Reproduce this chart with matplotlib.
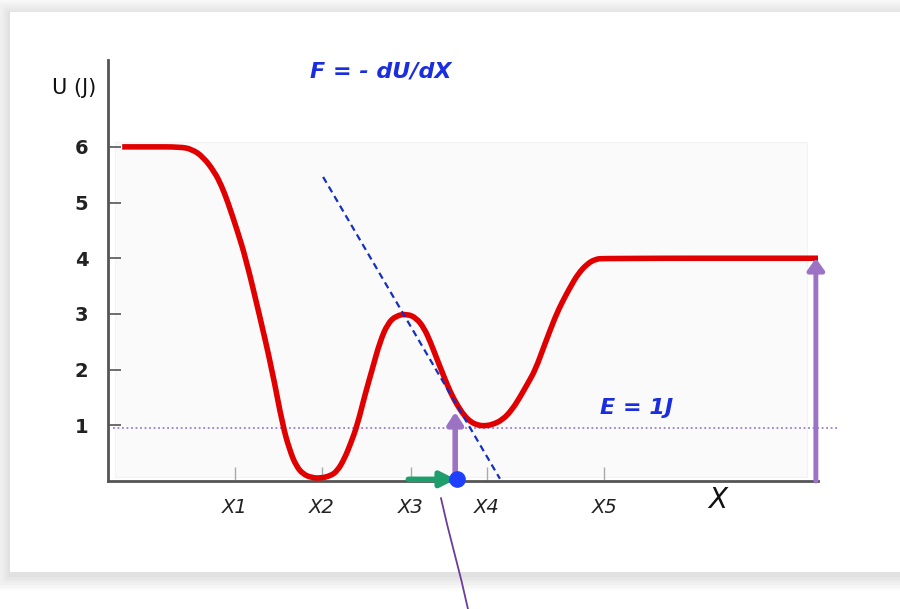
import matplotlib
matplotlib.use("Agg")
import matplotlib.pyplot as plt
from matplotlib.patches import Rectangle, PathPatch
from matplotlib.path import Path

# potential energy curve U(x), read at points along the trace
x_curve = [0.20, 0.59, 1.01, 1.18, 1.34, 1.50, 1.60, 1.69, 1.82, 1.94, 2.13, 2.31,
           2.46, 2.56, 2.65, 2.75, 2.87, 2.99, 3.13, 3.23, 3.33, 3.42, 3.51, 3.62,
           3.72, 3.83, 3.94, 4.06, 4.21, 4.34, 4.45, 4.54, 4.63, 4.73, 4.82, 4.92,
           5.02, 5.12, 5.22, 5.30, 5.41, 5.56, 5.69, 5.80, 5.92, 6.02, 6.15, 6.30,
           6.40, 6.51, 6.62, 6.75, 6.86, 6.97, 10.0]
u_curve = [6.00, 6.00, 6.00, 5.96, 5.82, 5.55, 5.30, 5.00, 4.50, 4.00, 3.00, 2.00,
           1.00, 0.55, 0.27, 0.12, 0.06, 0.05, 0.09, 0.18, 0.40, 0.68, 1.00, 1.55,
           2.00, 2.50, 2.83, 2.97, 3.00, 2.93, 2.75, 2.50, 2.20, 1.88, 1.60, 1.36,
           1.17, 1.05, 1.00, 0.99, 1.01, 1.10, 1.28, 1.50, 1.77, 2.00, 2.45, 2.95,
           3.22, 3.48, 3.72, 3.90, 3.98, 4.00, 4.00]

# tangent line at the slope point
x_tangent = [3.03, 5.52]
u_tangent = [5.46, 0.04]

y_ticks = [1, 2, 3, 4, 5, 6]
x_ticks = [1.79, 3.01, 4.27, 5.34, 6.99]
x_tick_labels = ["X1", "X2", "X3", "X4", "X5"]

energy = 0.95
particle_x = 4.92
small_arrow_top = 1.24
big_arrow_x = 9.97
big_arrow_top = 4.0
push_start = 4.23


def smooth_path(xs, ys):
    # quadratic segments through the midpoints, read points act as controls
    pts = list(zip(xs, ys))
    verts = [pts[0]]
    codes = [Path.MOVETO]
    for i in range(1, len(pts) - 1):
        mid = ((pts[i][0] + pts[i + 1][0]) / 2, (pts[i][1] + pts[i + 1][1]) / 2)
        verts += [pts[i], mid]
        codes += [Path.CURVE3, Path.CURVE3]
    verts.append(pts[-1])
    codes.append(Path.LINETO)
    return Path(verts, codes)


fig = plt.figure(figsize=(9, 6.09), dpi=100)
fig.patch.set_facecolor("white")

# card with a soft shadow
cx0, cy0 = 10 / 900, (609 - 572) / 609
cw, ch = 1.05, (572 - 12) / 609
for i in range(10, 0, -1):
    d = i * 1.6
    fig.patches.append(Rectangle((cx0 - d / 900, cy0 - (d + 3) / 609),
                                 cw + 2 * d / 900, ch + (2 * d + 1) / 609,
                                 transform=fig.transFigure, facecolor="black",
                                 alpha=0.012, edgecolor="none", zorder=-3))
fig.patches.append(Rectangle((cx0, cy0), cw, ch, transform=fig.transFigure,
                             facecolor="white", edgecolor="none", zorder=-2))

ax = fig.add_axes([108 / 900, (609 - 481) / 609, 710 / 900, 421 / 609])
ax.set_facecolor("none")
ax.set_xlim(0, 10)
ax.set_ylim(0, 7.56)

# faint plotting area
ax.add_patch(Rectangle((0.1, 0.08), 9.75, 6.0, facecolor="#fafafb",
                       edgecolor="#f3f3f6", lw=0.8, zorder=0))

for s in ["top", "right"]:
    ax.spines[s].set_visible(False)
for s in ["left", "bottom"]:
    ax.spines[s].set_color("#555555")
    ax.spines[s].set_linewidth(2)

ax.set_yticks(y_ticks)
ax.set_yticklabels([str(v) for v in y_ticks], fontsize=14, fontweight="bold",
                   color="#222222")
ax.set_xticks(x_ticks)
ax.set_xticklabels(x_tick_labels, fontsize=14, fontstyle="italic", color="#222222")
ax.tick_params(axis="y", direction="in", length=9, width=1.2, color="#555555", pad=14)
ax.tick_params(axis="x", direction="in", length=10, width=1, color="#aaaaaa", pad=12)

ax.add_patch(PathPatch(smooth_path(x_curve, u_curve), facecolor="none",
                       edgecolor="#e00000", lw=4, capstyle="butt",
                       joinstyle="round", zorder=3))
ax.plot(x_tangent, u_tangent, color="#1530c0", lw=1.6, ls=(0, (3, 2)), zorder=4)
ax.plot([0.07, 10.28], [energy, energy], color="#9a80d0", lw=1.3, ls=(0, (1, 1.5)),
        clip_on=False, zorder=2)

# force arrow, particle, and the two energy arrows
ax.annotate("", xy=(particle_x - 0.02, 0.03), xytext=(push_start, 0.03),
            arrowprops=dict(arrowstyle="-|>,head_length=0.9,head_width=0.45",
                            color="#1d9e6c", lw=4, shrinkA=0, shrinkB=0),
            zorder=5, annotation_clip=False)
ax.annotate("", xy=(4.89, small_arrow_top), xytext=(4.89, 0.0),
            arrowprops=dict(arrowstyle="-|>,head_length=0.7,head_width=0.45",
                            color="#9b72c4", lw=4, shrinkA=0, shrinkB=0),
            zorder=5)
ax.annotate("", xy=(big_arrow_x, big_arrow_top), xytext=(big_arrow_x, 0.0),
            arrowprops=dict(arrowstyle="-|>,head_length=0.7,head_width=0.5",
                            color="#9b72c4", lw=3.5, shrinkA=0, shrinkB=0),
            zorder=5, annotation_clip=False)
ax.plot([particle_x], [0.03], "o", color="#1f3fff", ms=11, zorder=6, clip_on=False)

# pointer line running below the axis
ax.plot([4.69, 4.78, 4.88, 4.98, 5.07], [-0.31, -0.80, -1.30, -1.80, -2.30],
        color="#6a3d9a", lw=1.3, clip_on=False)

ax.text(-0.79, 7.06, "U (J)", fontsize=15, ha="left", va="center", color="#111111",
        clip_on=False)
ax.text(8.59, -0.34, "X", fontsize=20, ha="center", va="center", color="#111111",
        fontstyle="italic", clip_on=False)
ax.text(2.85, 7.36, "F = - dU/dX", fontsize=16, fontweight="bold", fontstyle="italic",
        color="#1a2ee0", ha="left", va="center")
ax.text(6.93, 1.31, "E = 1J", fontsize=16, fontweight="bold", fontstyle="italic",
        color="#1a2ee0", ha="left", va="center")

fig.savefig("out.png", dpi=100)
